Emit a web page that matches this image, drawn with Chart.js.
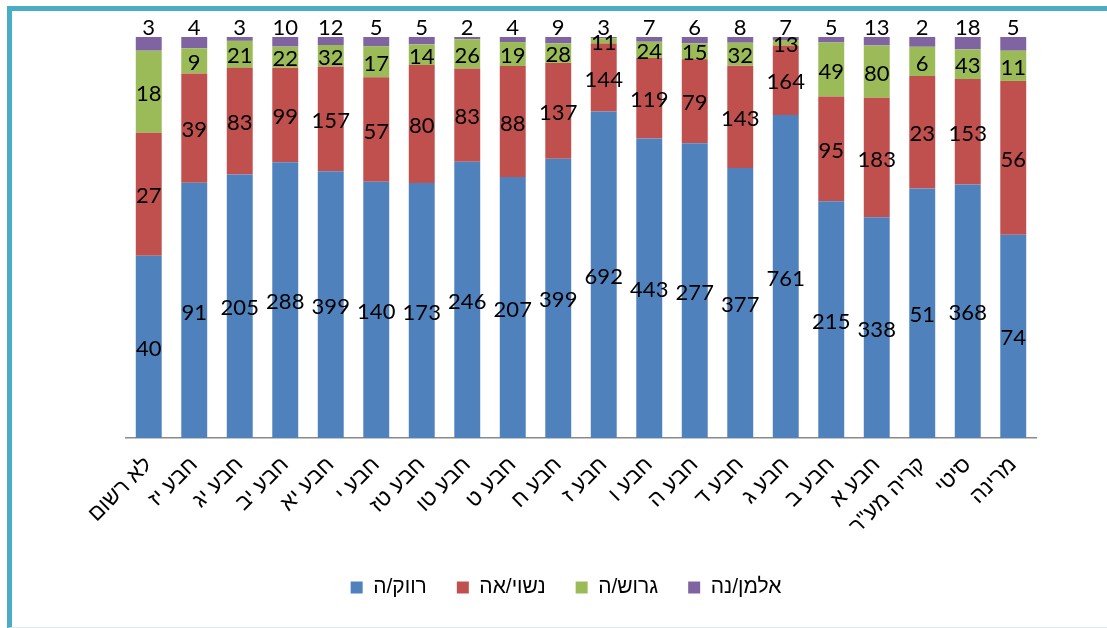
<!DOCTYPE html>
<html><head><meta charset="utf-8">
<script src="https://cdn.jsdelivr.net/npm/chart.js@4"></script>
<style>
html,body{margin:0;padding:0;background:#fff;}
#wrap{position:relative;width:1107px;height:628px;overflow:hidden;background:#fff;}
#frame{position:absolute;left:7px;top:6px;width:1200px;height:616px;border-top:5px solid #4BACC6;border-left:5px solid #4BACC6;border-bottom:1px solid #dde8ee;pointer-events:none;}
canvas{position:absolute;left:0;top:0;}
</style></head><body>
<div id="wrap"><canvas id="c" width="1107" height="628"></canvas><div id="frame"></div></div>
<script>
const categories = ['לא רשום','חבע יז','חבע יג','חבע יב','חבע יא','חבע י','חבע טז','חבע טו','חבע ט','חבע ח','חבע ז','חבע ו','חבע ה','חבע ד','חבע ג','חבע ב','חבע א','קריה מע"ר','סיטי','מרינה'];
const seriesNames = ['רווק/ה','נשוי/אה','גרוש/ה','אלמן/נה'];
const single   = [40, 91, 205, 288, 399, 140, 173, 246, 207, 399, 692, 443, 277, 377, 761, 215, 338, 51, 368, 74];
const married  = [27, 39, 83, 99, 157, 57, 80, 83, 88, 137, 144, 119, 79, 143, 164, 95, 183, 23, 153, 56];
const divorced = [18, 9, 21, 22, 32, 17, 14, 26, 19, 28, 11, 24, 15, 32, 13, 49, 80, 6, 43, 11];
const widowed  = [3, 4, 3, 10, 12, 5, 5, 2, 4, 9, 3, 7, 6, 8, 7, 5, 13, 2, 18, 5];
const colors = ['#4F81BD','#C0504D','#9BBB59','#8064A2'];

const raws = [single, married, divorced, widowed];
const totals = categories.map((_, i) => raws.reduce((s, a) => s + a[i], 0));
const datasets = raws.map((arr, k) => ({
  label: seriesNames[k],
  raw: arr,
  data: arr.map((v, i) => v / totals[i] * 100),
  backgroundColor: colors[k],
  borderWidth: 0,
  barPercentage: 0.57,
  categoryPercentage: 1.0
}));

const valueLabels = {
  id: 'valueLabels',
  afterLayout(chart) {
    const lg = chart.legend;
    if (lg) { lg.left -= 15; lg.right -= 15; }
  },
  afterDatasetsDraw(chart) {
    const ctx = chart.ctx;
    ctx.save();
    ctx.font = '22px Lato';
    ctx.fillStyle = '#000';
    ctx.textAlign = 'center';
    chart.data.datasets.forEach((ds, di) => {
      const meta = chart.getDatasetMeta(di);
      meta.data.forEach((bar, i) => {
        const v = ds.raw[i];
        if (di === 3) {
          ctx.textBaseline = 'alphabetic';
          ctx.fillText(String(v), bar.x, bar.y - 2);
        } else {
          ctx.textBaseline = 'middle';
          ctx.fillText(String(v), bar.x, (bar.y + bar.base) / 2 + 2);
        }
      });
    });
    ctx.restore();
  }
};

new Chart(document.getElementById('c'), {
  type: 'bar',
  data: { labels: categories, datasets },
  options: {
    responsive: false,
    devicePixelRatio: 1,
    animation: false,
    layout: { padding: { top: 37, left: 126, right: 71, bottom: 20 } },
    plugins: {
      legend: {
        position: 'bottom',
        labels: { boxWidth: 12, boxHeight: 12, padding: 30, color: '#000', font: { family: 'Liberation Sans', size: 21 } }
      },
      tooltip: { enabled: false }
    },
    scales: {
      x: {
        stacked: true,
        grid: { display: false },
        border: { display: true, color: '#8a8a8a', width: 1.5 },
        ticks: { color: '#000', font: { family: 'Liberation Sans', size: 22 }, minRotation: 45, maxRotation: 45, autoSkip: false, padding: 6 },
        afterFit(scale) { scale.height = 109; }
      },
      y: {
        stacked: true, display: false, min: 0, max: 100
      }
    }
  },
  plugins: [valueLabels]
});
</script>
</body></html>
